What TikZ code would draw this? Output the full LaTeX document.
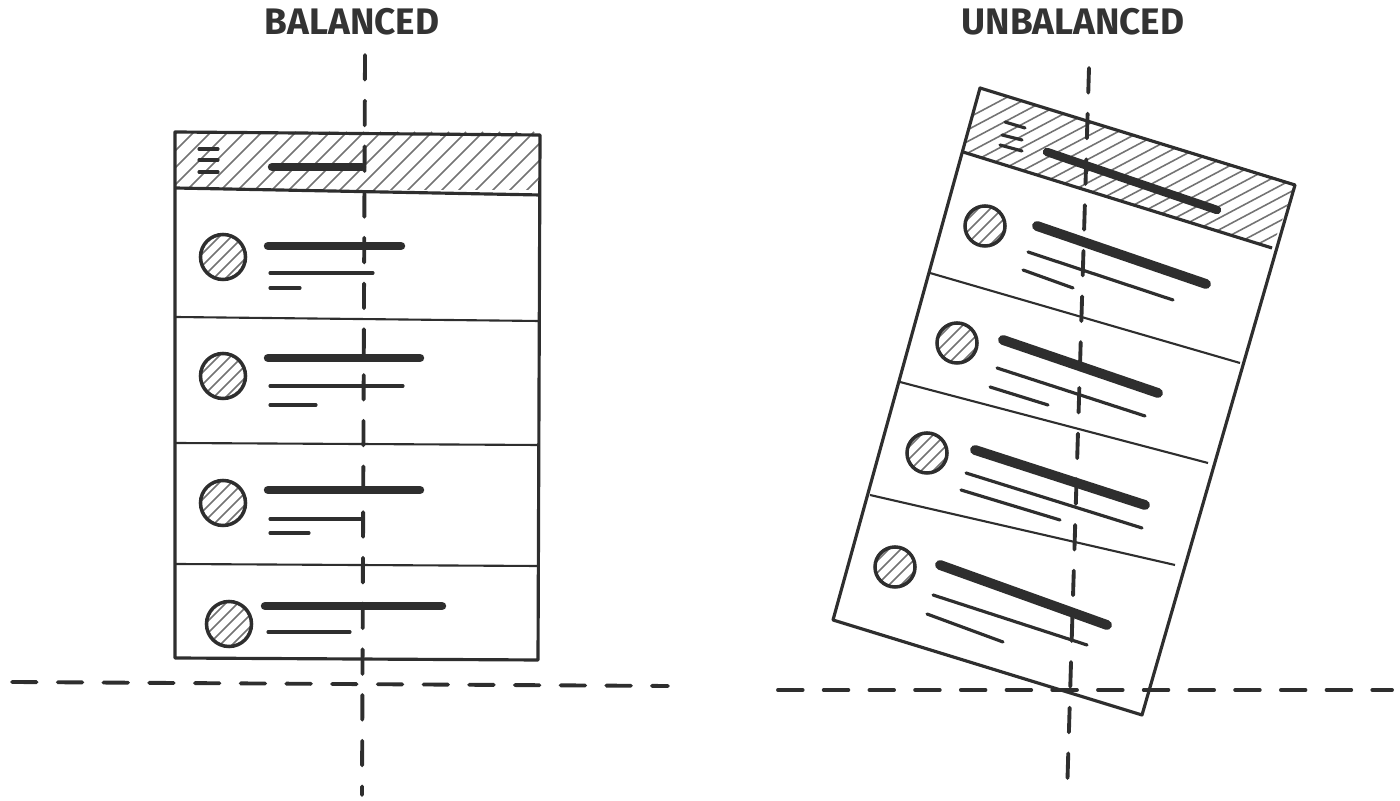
\documentclass[tikz,border=0pt]{standalone}
\usepackage{fontspec}
\setmainfont{Fira Sans}
\usetikzlibrary{positioning}

\begin{document}
\begin{tikzpicture}[x=0.01cm, y=-0.01cm,
    ink/.style={draw=black!82},
    frame/.style={ink, line width=0.9pt, line join=round},
    divider/.style={ink, line width=0.6pt},
    bar/.style={ink, line width=2.4pt, line cap=round},
    textline/.style={ink, line width=0.9pt, line cap=round},
    hatch/.style={draw=black!55, line width=0.45pt},
    axis/.style={ink, line width=1.1pt, dash pattern=on 7pt off 6pt, line cap=round},
    avatar/.style={circle, ink, line width=1pt, inner sep=0pt, minimum size=0.45cm,
      path picture={\foreach \k in {-36,-24,...,36}
        \draw[hatch] ([shift={(\k-30,30)}]path picture bounding box.center) -- ++(60,-60);}},
    heading/.style={font=\fontsize{10.5}{12}\selectfont\bfseries, text=black!80}]
\useasboundingbox (0,0) rectangle (1400,801);

\node[heading] (balanced) at (352,22) {BALANCED};
\node[heading] (unbalanced) at (1073,22) {UNBALANCED};

% balanced screen
\begin{scope}
\clip (175,132) rectangle (540,190);
\foreach \k in {100,117,...,560}
  \draw[hatch] (\k,192) -- ++(60,-60);
\end{scope}
\draw[frame] (175,132) -- (540,135) -- (538,660) -- (175,658) -- cycle;
\draw[frame] (175,188) -- (540,195);
\draw[divider] (175,317) -- (539,321);
\draw[divider] (175,443) -- (539,445);
\draw[divider] (175,564) -- (538,566);
\foreach \y in {149,160,172}
  \draw[textline] (199,\y) -- (218,\y);
\draw[bar] (272,167) -- (362,167);
\foreach \cy/\by/\bx/\ty/\tx/\sy/\sx [count=\i] in
    {257/246/401/273/373/288/300, 376/358/420/386/403/405/316, 503/490/420/519/363/533/309}{
  \node[avatar] (avl\i) at (223,\cy) {};
  \draw[bar] (268,\by) -- (\bx,\by);
  \draw[textline] (270,\ty) -- (\tx,\ty);
  \draw[textline] (270,\sy) -- (\sx,\sy);
}
\node[avatar] (avl4) at (229,624) {};
\draw[bar] (265,606) -- (442,606);
\draw[textline] (268,632) -- (350,632);

\coordinate (lefttop) at (365,55);
\coordinate (leftbottom) at (362,795);
\coordinate (leftwest) at (12,682);
\coordinate (lefteast) at (668,686);
\draw[axis] (lefttop) -- (leftbottom);
\draw[axis] (leftwest) -- (lefteast);

% unbalanced screen
\coordinate (tl) at (980,88);
\coordinate (tr) at (1295,185);
\coordinate (br) at (1142,715);
\coordinate (bl) at (833,620);
\begin{scope}
\clip (tl) -- (tr) -- (1272,248) -- (963,152) -- cycle;
\foreach \k in {700,722,...,1320}
  \draw[hatch] (\k,260) -- ++(400,-212);
\end{scope}
\draw[frame] (tl) -- (tr) -- (br) -- (bl) -- cycle;
\draw[frame] (963,152) -- (1272,248);
\draw[divider] (930,273) -- (1240,363);
\draw[divider] (900,382) -- (1208,463);
\draw[divider] (870,495) -- (1175,565);
\draw[textline] (1005,122) -- (1025,128);
\draw[textline] (1002,135) -- (1022,140);
\draw[textline] (1000,145) -- (1022,151);
\draw[bar] (1047,152) -- (1217,210);

\node[avatar, minimum size=0.4cm] (avr1) at (985,226) {};
\draw[bar, line width=2.8pt] (1037,226) -- (1206,284);
\draw[textline] (1028,252) -- (1173,300);
\draw[textline] (1023,270) -- (1073,288);

\node[avatar, minimum size=0.4cm] (avr2) at (957,343) {};
\draw[bar, line width=2.8pt] (1003,340) -- (1158,393);
\draw[textline] (997,368) -- (1145,416);
\draw[textline] (990,387) -- (1048,405);

\node[avatar, minimum size=0.4cm] (avr3) at (927,453) {};
\draw[bar, line width=2.8pt] (975,450) -- (1145,505);
\draw[textline] (966,473) -- (1142,528);
\draw[textline] (961,490) -- (1060,520);

\node[avatar, minimum size=0.4cm] (avr4) at (895,567) {};
\draw[bar, line width=2.8pt] (940,565) -- (1107,625);
\draw[textline] (933,595) -- (1087,645);
\draw[textline] (927,614) -- (1003,642);

\coordinate (righttop) at (1089,68);
\coordinate (rightbottom) at (1067,795);
\coordinate (rightwest) at (778,690);
\coordinate (righteast) at (1392,690);
\draw[axis] (righttop) -- (rightbottom);
\draw[axis] (rightwest) -- (righteast);
\end{tikzpicture}
\end{document}
